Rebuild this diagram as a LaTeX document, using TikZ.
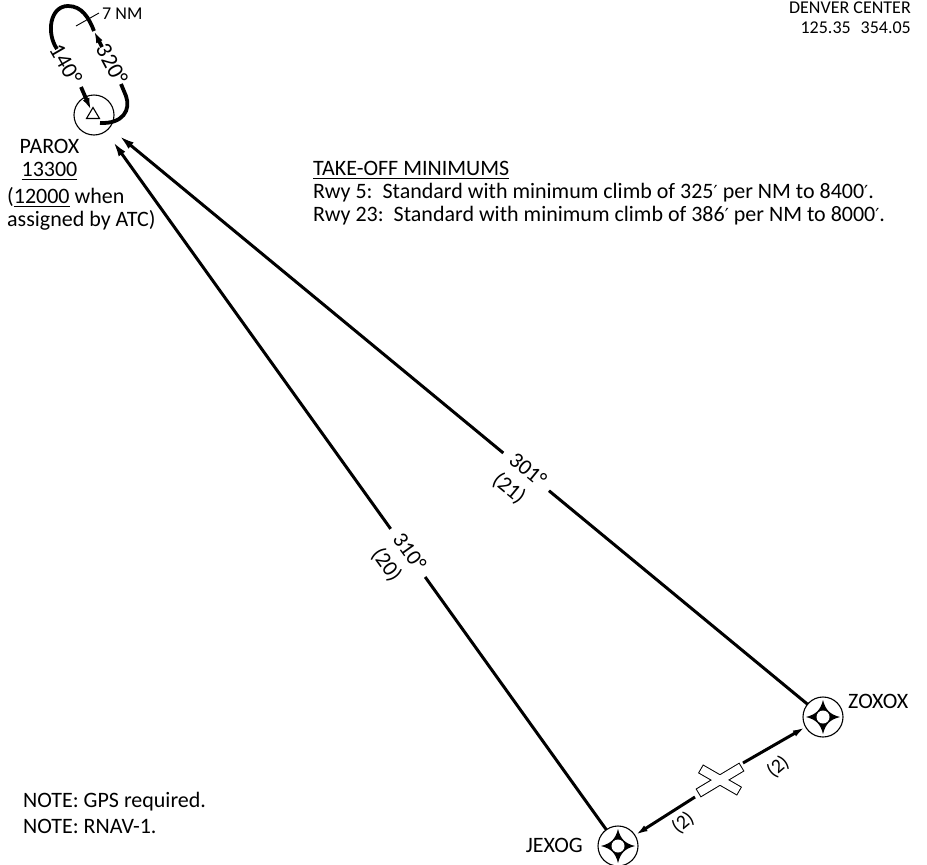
\documentclass[tikz,border=0pt]{standalone}
\usepackage{fontspec}
\setmainfont{Carlito}
\newfontfamily\symfont{DejaVu Sans}
\usetikzlibrary{arrows.meta}
\newcommand\ulx[1]{\vtop{\hbox{#1}\kern3pt\hrule height 1.3pt}}
\newcommand\primex{{\symfont\fontsize{18}{20}\selectfont ′}}
\tikzset{
  wstar/.pic={
    \fill[black] (0,17) .. controls (2.5,7) and (7,2.5) .. (17,0)
      .. controls (7,-2.5) and (2.5,-7) .. (0,-17)
      .. controls (-2.5,-7) and (-7,-2.5) .. (-17,0)
      .. controls (-7,2.5) and (-2.5,7) .. cycle;
    \fill[white] (0,0) circle (6.5pt);
  }
}
\begin{document}
\begin{tikzpicture}[x=1pt,y=-1pt,
  txt/.style={font=\fontsize{22}{26}\selectfont, inner sep=0pt},
  smalltxt/.style={font=\fontsize{18}{21}\selectfont, inner sep=0pt},
  track/.style={line width=3pt},
  holdln/.style={line width=3.8pt},
  thinln/.style={line width=1.1pt},
  fixc/.style={circle, draw, line width=1.1pt, minimum size=40pt, inner sep=0pt, outer sep=0pt},
  wptc/.style={fixc, fill=white},
  lbl/.style={font=\fontsize{22}{26}\selectfont, fill=white, inner xsep=9pt, inner ysep=1pt, align=left},
  lbltwo/.style={font=\fontsize{20}{24}\selectfont, inner sep=0pt},
  holdlbl/.style={font=\fontsize{23}{26}\selectfont, inner sep=0pt},
  tip/.style={-{Latex[length=16pt,width=8pt]}},
  smalltip/.style={-{Latex[length=13pt,width=6.5pt]}},
  holdtip/.style={-{Latex[length=12pt,width=7pt]}}
]
\useasboundingbox (0,0) rectangle (927,865);

% fixes
\node[fixc] (parox) at (94,115) {};
\draw[thinln] (86.5,118.5) -- (99.5,118.5) -- (93,107.5) -- cycle;
\node[wptc] (zoxox) at (823,717) {};
\pic at (zoxox) {wstar};
\node[wptc] (jexog) at (618,846) {};
\pic at (jexog) {wstar};
\node[txt, anchor=base west] (zoxoxname) at (848,708) {ZOXOX};
\node[txt, anchor=base east] (jexogname) at (583,852) {JEXOG};

% tracks
\draw[track, tip, shorten >=12pt] (jexog) -- (parox);
\draw[track, tip, shorten >=12pt] (zoxox) -- (parox);
\node[lbl, rotate=-54.4] (lbla) at (398,560) {310°\\(20)};
\node[lbl, rotate=-39.5] (lblb) at (519,480.5) {301°\\(21)};

% bottom segment with runway symbol
\coordinate (xc) at (720,780);
\coordinate (xa) at (743,763);
\coordinate (xb) at (695,797);
\draw[track, smalltip] (xa) -- (zoxox);
\draw[track, smalltip] (xb) -- (jexog);
\begin{scope}[shift={(xc)}]
  \draw[line width=2pt,rotate=31] (-24.5,-4) rectangle (24.5,4);
  \draw[line width=2pt,rotate=-30] (-21.5,-4) rectangle (21.5,4);
  \fill[white,rotate=31] (-24.5,-4) rectangle (24.5,4);
  \fill[white,rotate=-30] (-21.5,-4) rectangle (21.5,4);
\end{scope}
\node[lbltwo, rotate=40] (dista) at (778,767) {(2)};
\node[lbltwo, rotate=40] (distb) at (683,823) {(2)};

% holding pattern
\draw[holdln] (57,49) .. controls (46,33) and (50,6) .. (68,6) .. controls (82,6) and (89,18) .. (94,31);
\draw[holdln, holdtip] (102,47) -- (94,31);
\draw[holdln, holdtip] (81,87) -- (91,110);
\draw[holdln] (121,84) -- (126,96) .. controls (131,110) and (123,124) .. (100,123);
\node[holdlbl, rotate=-60] (inb) at (66,64) {140°};
\node[holdlbl, rotate=-62] (outb) at (112,64) {320°};
\draw[line width=0.9pt] (76,26) -- (99,13);
\node[smalltxt, anchor=base west] (legl) at (102,19) {7 NM};

% texts
\node[smalltxt, anchor=base east] (freqa) at (911,13.5) {DENVER CENTER};
\node[smalltxt, anchor=base east] (freqb) at (911,33) {125.35\hspace{0.55em}354.05};
\node[txt, anchor=base] (pname) at (49.5,153) {PAROX};
\node[txt, anchor=base] (palt) at (49.5,176) {\ulx{13300}};
\node[txt, anchor=base west] (palta) at (7,203) {(\ulx{12000} when};
\node[txt, anchor=base west] (paltb) at (7,226.5) {assigned by ATC)};
\node[txt, anchor=base west] (tohead) at (313,175) {\ulx{TAKE-OFF MINIMUMS}};
\node[txt, anchor=base west] (toa) at (313,198) {Rwy 5:\ \ Standard with minimum climb of 325\primex{} per NM to 8400\primex.};
\node[txt, anchor=base west] (tob) at (313,221) {Rwy 23:\ \ Standard with minimum climb of 386\primex{} per NM to 8000\primex.};
\node[txt, anchor=base west] (notea) at (23,807) {NOTE: GPS required.};
\node[txt, anchor=base west] (noteb) at (23,833) {NOTE: RNAV-1.};
\end{tikzpicture}
\end{document}
